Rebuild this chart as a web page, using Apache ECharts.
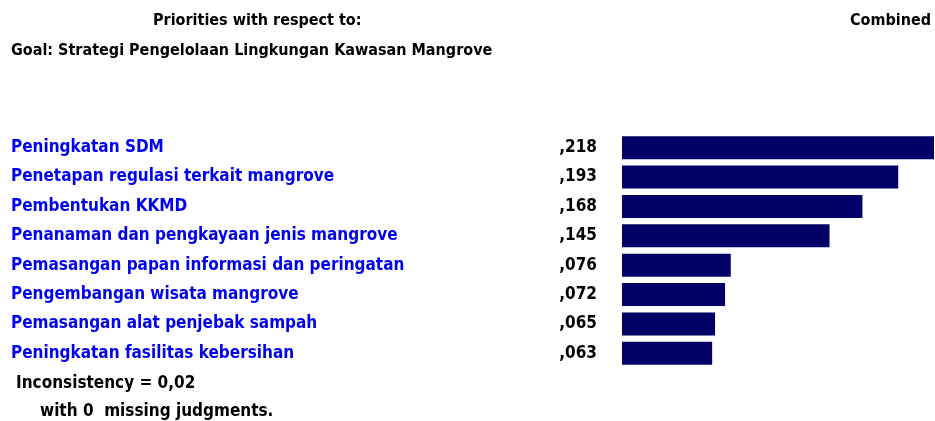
<!DOCTYPE html>
<html lang="en">
<head>
    <meta charset="UTF-8">
    <title>Priorities</title>
    <script src="https://cdn.jsdelivr.net/npm/echarts@6/dist/echarts.min.js"></script>
    <style>
        html, body { margin: 0; padding: 0; background: #ffffff; }
        #chart { width: 935px; height: 421px; }
    </style>
</head>
<body>
<div id="chart"></div>
<script>
    // data
    var categories = [
        'Peningkatan SDM',
        'Penetapan regulasi terkait mangrove',
        'Pembentukan KKMD',
        'Penanaman dan pengkayaan jenis mangrove',
        'Pemasangan papan informasi dan peringatan',
        'Pengembangan wisata mangrove',
        'Pemasangan alat penjebak sampah',
        'Peningkatan fasilitas kebersihan'
    ];
    var priorities = [0.218, 0.193, 0.168, 0.145, 0.076, 0.072, 0.065, 0.063];
    var notes = ['Inconsistency = 0,02', 'with 0  missing judgments.'];

    var font = '"DejaVu Sans Condensed", "DejaVu Sans", sans-serif';

    function txt(size) {
        return {fontFamily: font, fontSize: size, fontWeight: 'bold', color: '#000'};
    }

    var chart = echarts.init(document.getElementById('chart'));
    var option = {
        animation: false,
        title: [
            {text: 'Priorities with respect to:', left: 153, top: 13, padding: 0, textStyle: txt(16)},
            {text: 'Goal: Strategi Pengelolaan Lingkungan Kawasan Mangrove', left: 11, top: 43, padding: 0, textStyle: txt(16)},
            {text: 'Combined', right: 4, top: 13, padding: 0, textStyle: txt(16)},
            {text: notes[0], left: 16, top: 375, padding: 0, textStyle: txt(17)},
            {text: notes[1], left: 40, top: 403, padding: 0, textStyle: txt(17)}
        ],
        grid: {left: 622, right: 1, top: 133, height: 235, containLabel: false},
        xAxis: {
            type: 'value', min: 0, max: 0.218,
            show: false
        },
        yAxis: {
            type: 'category',
            data: categories,
            inverse: true,
            axisLine: {show: false},
            axisTick: {show: false},
            axisLabel: {
                align: 'left',
                margin: 611,
                fontFamily: font,
                fontSize: 17,
                fontWeight: 'bold',
                color: '#0000ee'
            }
        },
        series: [{
            type: 'bar',
            data: priorities,
            barWidth: 23,
            itemStyle: {color: '#020066'},
            label: {
                show: true,
                position: 'left',
                distance: 25,
                fontFamily: font,
                fontSize: 17,
                fontWeight: 'bold',
                color: '#000',
                formatter: function (p) {
                    return ',' + p.value.toFixed(3).slice(2);
                }
            }
        }]
    };
    chart.setOption(option);
</script>
</body>
</html>
